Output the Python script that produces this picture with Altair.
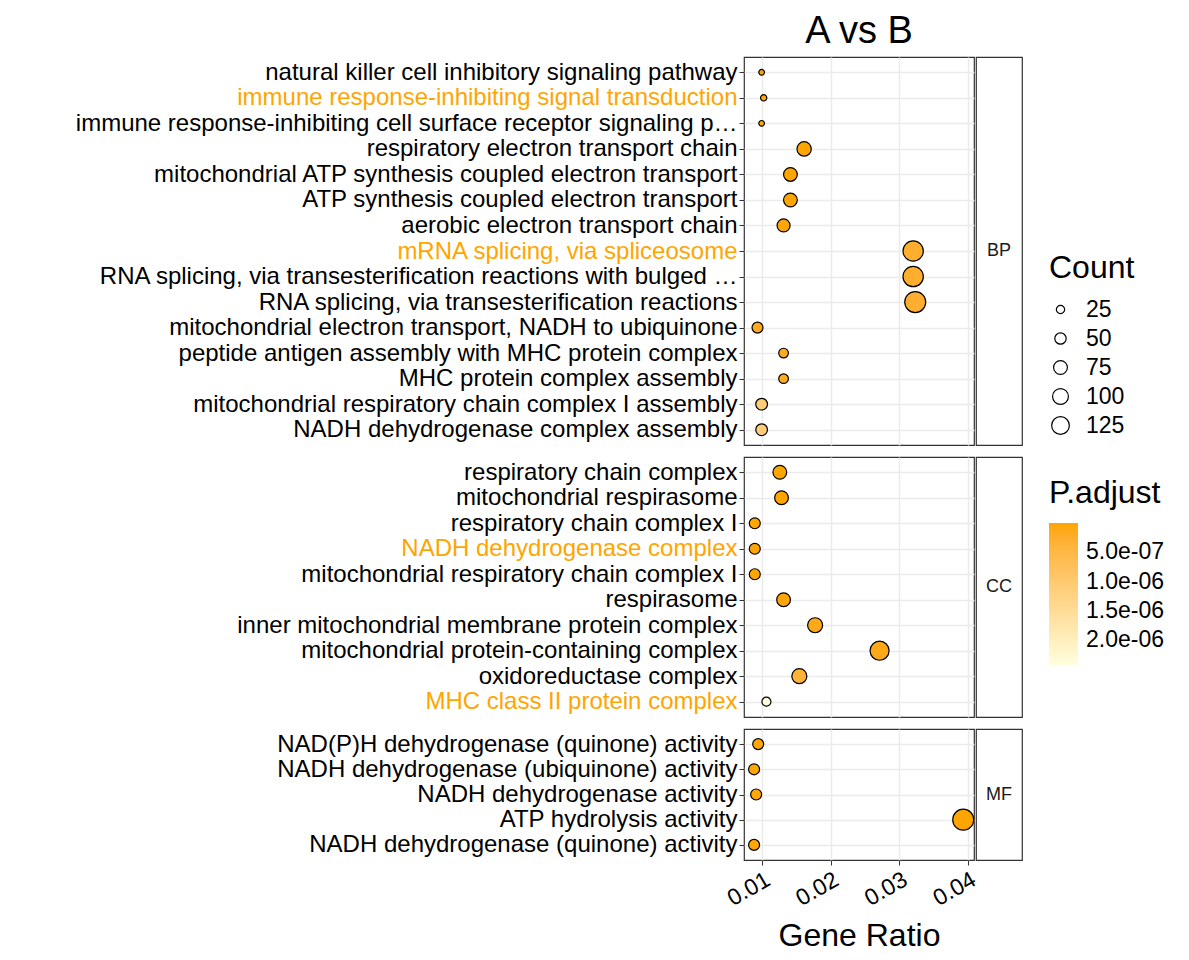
import altair as alt
import pandas as pd

# ---------------- data ----------------
bp_terms = [
    "natural killer cell inhibitory signaling pathway",
    "immune response-inhibiting signal transduction",
    "immune response-inhibiting cell surface receptor signaling p…",
    "respiratory electron transport chain",
    "mitochondrial ATP synthesis coupled electron transport",
    "ATP synthesis coupled electron transport",
    "aerobic electron transport chain",
    "mRNA splicing, via spliceosome",
    "RNA splicing, via transesterification reactions with bulged …",
    "RNA splicing, via transesterification reactions",
    "mitochondrial electron transport, NADH to ubiquinone",
    "peptide antigen assembly with MHC protein complex",
    "MHC protein complex assembly",
    "mitochondrial respiratory chain complex I assembly",
    "NADH dehydrogenase complex assembly",
]
bp_ratio = [0.0099, 0.0102, 0.0099, 0.0161, 0.0141, 0.0141, 0.0131, 0.0320, 0.0320, 0.0323,
            0.0093, 0.0131, 0.0131, 0.0099, 0.0099]
bp_count = [10, 13, 10, 81, 74, 74, 66, 166, 166, 177, 46, 35, 35, 53, 53]
bp_padj = [2e-8, 4e-8, 3e-8, 1e-10, 5e-9, 5e-9, 2e-8, 2.5e-7, 2.5e-7, 2.5e-7,
           1.2e-7, 1.5e-7, 1.5e-7, 1.1e-6, 1.1e-6]

cc_terms = [
    "respiratory chain complex",
    "mitochondrial respirasome",
    "respiratory chain complex I",
    "NADH dehydrogenase complex",
    "mitochondrial respiratory chain complex I",
    "respirasome",
    "inner mitochondrial membrane protein complex",
    "mitochondrial protein-containing complex",
    "oxidoreductase complex",
    "MHC class II protein complex",
]
cc_ratio = [0.01255, 0.0128, 0.0089, 0.0089, 0.0089, 0.0131, 0.0177, 0.0271, 0.0154, 0.0106]
cc_count = [74, 74, 46, 46, 46, 74, 89, 145, 89, 30]
cc_padj = [2e-9, 4e-9, 2e-8, 2e-8, 2e-8, 4e-8, 1e-7, 1e-7, 3.5e-7, 2.44e-6]

mf_terms = [
    "NAD(P)H dehydrogenase (quinone) activity",
    "NADH dehydrogenase (ubiquinone) activity",
    "NADH dehydrogenase activity",
    "ATP hydrolysis activity",
    "NADH dehydrogenase (quinone) activity",
]
mf_ratio = [0.0094, 0.0088, 0.0091, 0.0393, 0.0088]
mf_count = [46, 46, 46, 177, 46]
mf_padj = [3e-8, 3e-8, 3e-8, 1e-12, 3e-8]

highlight_terms = [
    "immune response-inhibiting signal transduction",
    "mRNA splicing, via spliceosome",
    "NADH dehydrogenase complex",
    "MHC class II protein complex",
]

x_ticks = [0.01, 0.02, 0.03, 0.04]
count_breaks = [25, 50, 75, 100, 125]
padj_breaks = [5e-7, 1e-6, 1.5e-6, 2e-6]

FONT = "Liberation Sans"
ORANGE = "#FFA500"
LIGHT = "#FFFFE0"

all_p = bp_padj + cc_padj + mf_padj
x_scale = alt.Scale(domain=[0.00733, 0.04087], nice=False, zero=False)
size_scale = alt.Scale(domain=[25, 125], range=[69, 313], zero=False)
# negated p so that the vertical gradient legend shows small values at the top
color_scale = alt.Scale(domain=[-max(all_p), -min(all_p)], range=[LIGHT, ORANGE], interpolate="lab")

hl_test = "indexof(" + str(highlight_terms).replace("'", '"') + ", datum.value) >= 0"

Y_EXTENT = 735


def panel(terms, ratio, count, padj, height, bottom=False, title=None):
    df = pd.DataFrame({"Description": terms, "GeneRatio": ratio, "Count": count, "padj": padj})
    if bottom:
        xaxis = alt.Axis(values=x_ticks, title="Gene Ratio", titleFontSize=32, titleFont=FONT,
                         titleFontWeight="normal", titleColor="black", titlePadding=10,
                         labelAngle=330, labelAlign="right", labelBaseline="top",
                         labelFontSize=23, labelFont=FONT, labelColor="black", labelPadding=3,
                         tickColor="#333333", tickSize=5, domain=False, grid=True,
                         gridColor="#EBEBEB", gridWidth=1.5, format=".2f")
    else:
        xaxis = alt.Axis(values=x_ticks, title=None, labels=False, ticks=False, domain=False,
                         grid=True, gridColor="#EBEBEB", gridWidth=1.5)
    yaxis = alt.Axis(title=None, labelFontSize=24, labelFont=FONT, labelLimit=900,
                     labelColor={"condition": {"test": hl_test, "value": ORANGE}, "value": "black"},
                     tickColor="#333333", tickSize=5, labelPadding=2, domain=False,
                     grid=True, gridColor="#EBEBEB", gridWidth=1.5,
                     minExtent=Y_EXTENT, maxExtent=Y_EXTENT)
    ch = alt.Chart(df).transform_calculate(negp="-datum.padj").mark_point(
        filled=True, stroke="black", strokeWidth=1.2, opacity=1, shape="circle"
    ).encode(
        x=alt.X("GeneRatio:Q", scale=x_scale, axis=xaxis),
        y=alt.Y("Description:N", sort=terms, scale=alt.Scale(type="point", padding=0.6), axis=yaxis),
        size=alt.Size("Count:Q", scale=size_scale,
                      legend=alt.Legend(title="Count", values=count_breaks, orient="none",
                                        legendX=305, legendY=196,
                                        titleFontSize=32, titleFont=FONT, titleFontWeight="normal",
                                        titleColor="black", labelFontSize=23, labelFont=FONT,
                                        labelColor="black", symbolFillColor="white",
                                        symbolStrokeColor="black", symbolStrokeWidth=1.2,
                                        symbolType="circle", rowPadding=5, labelOffset=14,
                                        titlePadding=13)),
        fill=alt.Fill("negp:Q", scale=color_scale,
                      legend=alt.Legend(title="P.adjust", orient="none", legendX=305, legendY=421,
                                        values=[-v for v in padj_breaks], direction="vertical",
                                        type="gradient", gradientLength=143, gradientThickness=29,
                                        gradientStrokeWidth=0,
                                        labelExpr="replace(format(-datum.value, '.1e'), 'e-', 'e-0')",
                                        titleFontSize=32, titleFont=FONT, titleFontWeight="normal",
                                        titleColor="black", labelFontSize=23, labelFont=FONT,
                                        labelColor="black", labelOffset=8, titlePadding=13)),
    ).properties(width=230, height=height)
    if title is not None:
        ch = ch.properties(title=alt.TitleParams(title, fontSize=38, font=FONT, fontWeight="normal",
                                                 color="black", anchor="middle", offset=6))
    return ch


def strip(label, height):
    df = pd.DataFrame({"lab": [label]})
    return alt.Chart(df).mark_text(fontSize=18, font=FONT, color="#1A1A1A").encode(
        text="lab:N", x=alt.value(23), y=alt.value(height / 2)
    ).properties(width=46, height=height)


h_bp, h_cc, h_mf = 388, 260, 131

row_bp = alt.hconcat(panel(bp_terms, bp_ratio, bp_count, bp_padj, h_bp, title="A vs B"),
                     strip("BP", h_bp), spacing=2, bounds="flush")
row_cc = alt.hconcat(panel(cc_terms, cc_ratio, cc_count, cc_padj, h_cc), strip("CC", h_cc),
                     spacing=2, bounds="flush")
row_mf = alt.hconcat(panel(mf_terms, mf_ratio, mf_count, mf_padj, h_mf, bottom=True),
                     strip("MF", h_mf), spacing=2, bounds="flush")

chart = alt.vconcat(row_bp, row_cc, row_mf, spacing=10).properties(
    padding={"top": 4, "left": 0, "right": 0, "bottom": 0}, background="white"
).configure_view(stroke="#333333", strokeWidth=1.2)

chart.save("out.html", embed_options={"renderer": "svg", "actions": False})
